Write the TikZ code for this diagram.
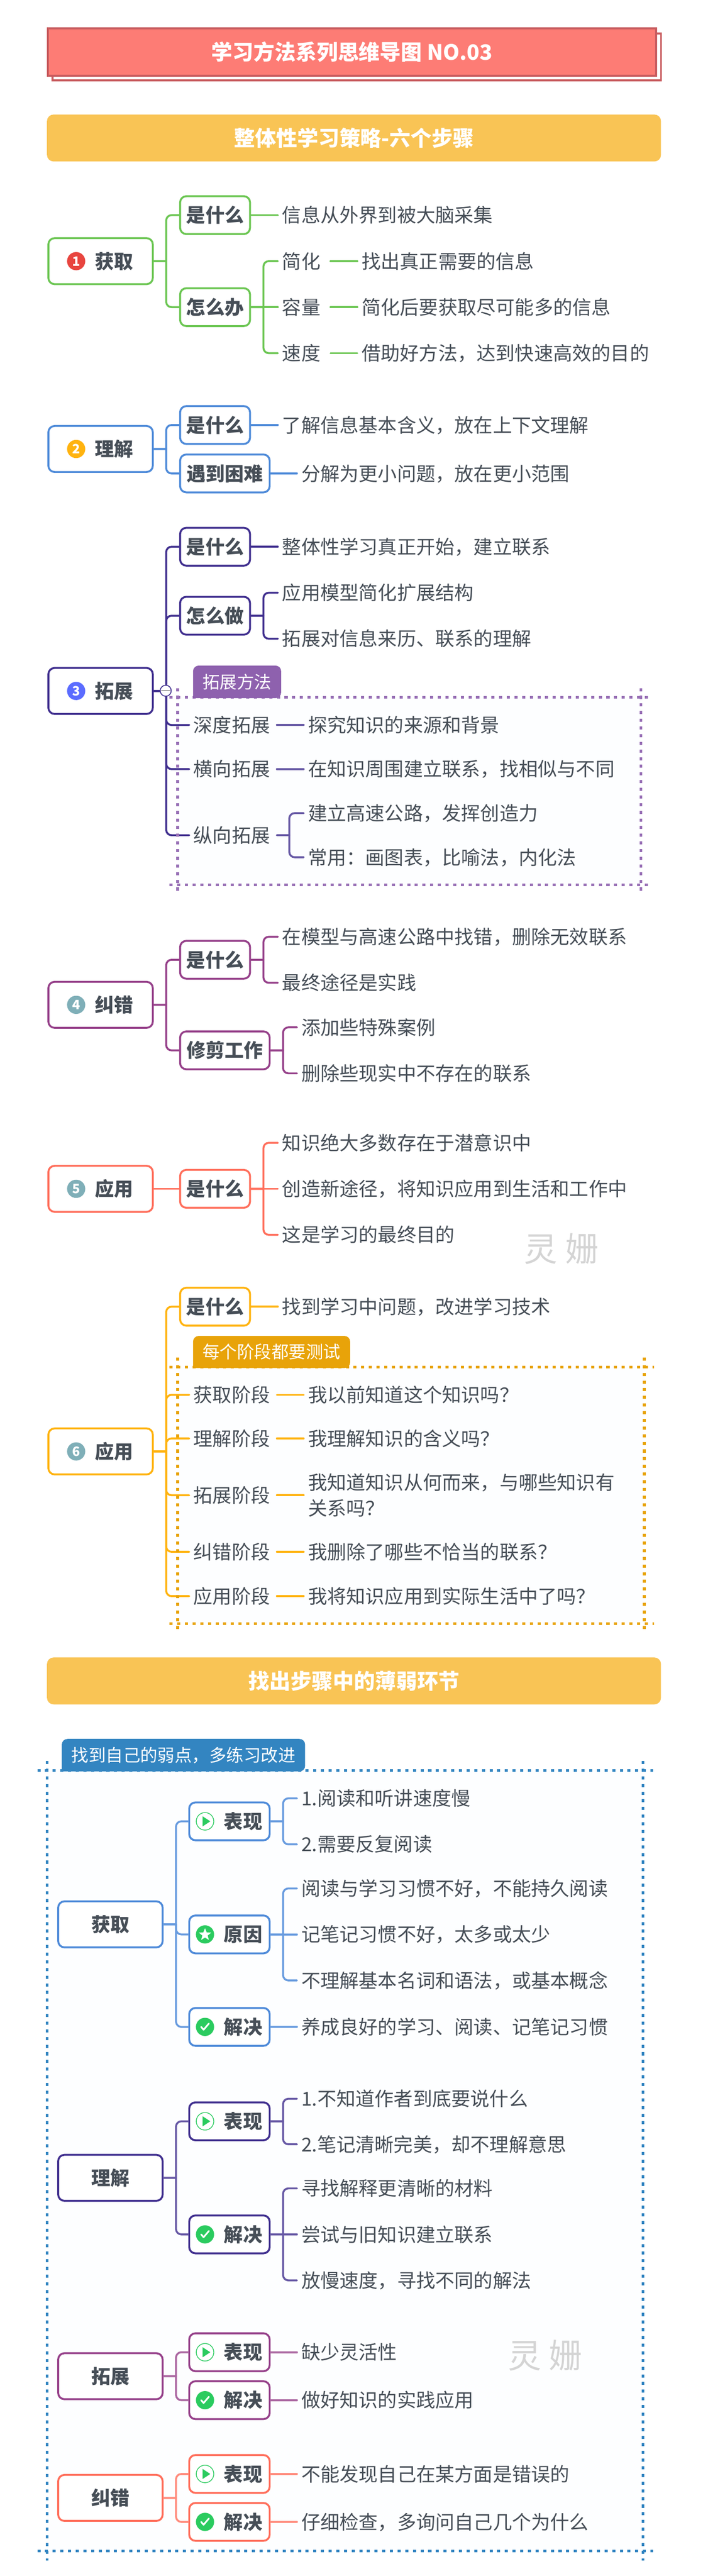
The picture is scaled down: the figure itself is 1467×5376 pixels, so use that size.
\documentclass[tikz,border=0pt]{standalone}
\usepackage{fontspec}
\setmainfont{Noto Sans CJK SC}
\usepackage{xcolor}
\usetikzlibrary{shapes.geometric}

\definecolor{inktext}{HTML}{464E57}
\definecolor{stepgreen}{HTML}{6CC653}
\definecolor{stepblue}{HTML}{4F8BD9}
\definecolor{stepindigo}{HTML}{41308F}
\definecolor{stepplum}{HTML}{96418A}
\definecolor{stepcoral}{HTML}{FF6F5C}
\definecolor{stepamber}{HTML}{FFB30F}
\definecolor{okgreen}{HTML}{2BCB5F}
\definecolor{sand}{HTML}{F9C455}
\definecolor{salmon}{HTML}{FD7C75}
\definecolor{salmonedge}{HTML}{C85C5F}
\definecolor{panel}{HTML}{FDFEFF}
\definecolor{tabpurple}{HTML}{8E61AE}
\definecolor{tabamber}{HTML}{E8A309}
\definecolor{tabblue}{HTML}{3385C1}
\definecolor{badgered}{HTML}{E8453F}
\definecolor{badgeblue}{HTML}{5B6CFF}
\definecolor{badgeteal}{HTML}{7FAFB8}

\begin{document}
\begin{tikzpicture}[x=1pt,y=-1pt]
    \tikzset{
        title/.style={rectangle, fill=salmon, draw=salmonedge, line width=4pt, minimum width=1270pt, minimum height=99pt, text=white, font=\fontsize{44pt}{52pt}\bfseries\selectfont},
        banner/.style={rectangle, fill=sand, rounded corners=14pt, minimum width=1282pt, minimum height=98pt, inner sep=0pt, text=white, font=\fontsize{44pt}{52pt}\bfseries\selectfont},
        rootbox/.style={rectangle, draw=tone, fill=white, line width=4pt, rounded corners=13pt, minimum width=218pt, minimum height=96pt, inner sep=0pt, text=inktext, text height=35.2pt, text depth=4.8pt, font=\fontsize{40pt}{48pt}\bfseries\selectfont},
        stepbox/.style={rootbox, execute at begin node={\hspace*{56pt}}},
        branch/.style={rootbox, minimum width=146pt, minimum height=79pt},
        widebranch/.style={branch, minimum width=187pt},
        iconbranch/.style={branch, minimum width=168pt, execute at begin node={\hspace*{57pt}}},
        leaf/.style={anchor=west, inner xsep=9pt, inner ysep=0pt, outer sep=0pt, text=inktext, text height=35.2pt, text depth=4.8pt, font=\fontsize{40pt}{53pt}\selectfont},
        badge/.style={circle, inner sep=0pt, minimum size=38pt, text=white, font=\fontsize{27pt}{27pt}\bfseries\selectfont},
        tabtext/.style={inner sep=0pt, text=white, text height=31.7pt, text depth=4.3pt, font=\fontsize{36pt}{44pt}\selectfont},
        dots/.style={line width=5.5pt, dash pattern=on 6.5pt off 9.5pt},
        watermark/.style={text=black!17, font=\fontsize{70pt}{80pt}\selectfont},
        every edge/.style={draw=wire, line width=4pt, line cap=round},
        elbow/.style={to path={-- ++(26,0) ++(0,0) [rounded corners=11pt] |- (\tikztotarget)}},
        playmark/.pic={\draw[okgreen, line width=1.5pt, fill=white] (0,0) circle (18.3); \fill[okgreen] (-5,-10.5) -- (11,0) -- (-5,10.5) -- cycle;},
        starmark/.pic={\fill[okgreen] (0,0) circle (19); \node[star, star points=5, star point ratio=2.3, fill=white, inner sep=0pt, minimum size=27pt] (mark) at (0,0.5) {};},
        checkmark/.pic={\fill[okgreen] (0,0) circle (19); \draw[white, line width=3.5pt, line cap=round, line join=round] (-8,0) -- (-3,6) -- (8,-7);}
    }
    \useasboundingbox (0,0) rectangle (1467,5376);
    \fill[white] (0,0) rectangle (1467,5376);

    \draw[salmonedge, line width=4pt, fill=white] (110,70) rectangle (1380,168);
    \node[title] (T) at (735,108.5) {学习方法系列思维导图 NO.03};
    \node[banner] (H1) at (739,288) {整体性学习策略-六个步骤};

    \colorlet{tone}{stepgreen}\colorlet{wire}{tone}
    \node[stepbox] (R1) at (210,545) {获取};
    \node[badge, fill=badgered] (N1) at ([xshift=60pt]R1.west) {1};
    \node[branch] (B1a) at (449,449) {是什么};
    \node[branch] (B1b) at (449,641) {怎么办};
    \node[leaf] (L1a) at (580,449) {信息从外界到被大脑采集};
    \node[leaf] (L1b) at (580,545) {简化};
    \node[leaf] (M1b) at (746,545) {找出真正需要的信息};
    \node[leaf] (L1c) at (580,641) {容量};
    \node[leaf] (M1c) at (746,641) {简化后要获取尽可能多的信息};
    \node[leaf] (L1d) at (580,737) {速度};
    \node[leaf] (M1d) at (746,737) {借助好方法，达到快速高效的目的};
    \path (R1.east) edge[elbow] (B1a.west) edge[elbow] (B1b.west);
    \path (B1a.east) edge (L1a.west);
    \path (B1b.east) edge[elbow] (L1b.west) edge (L1c.west) edge[elbow] (L1d.west);
    \path ([xshift=12pt]L1b.east) edge (M1b.west);
    \path ([xshift=12pt]L1c.east) edge (M1c.west);
    \path ([xshift=12pt]L1d.east) edge (M1d.west);

    \colorlet{tone}{stepblue}\colorlet{wire}{tone}
    \node[stepbox] (R2) at (210,937) {理解};
    \node[badge, fill=stepamber] (N2) at ([xshift=60pt]R2.west) {2};
    \node[branch] (B2a) at (449,887) {是什么};
    \node[widebranch] (B2b) at (469.5,988) {遇到困难};
    \node[leaf] (L2a) at (580,887) {了解信息基本含义，放在上下文理解};
    \node[leaf] (L2b) at (620,988) {分解为更小问题，放在更小范围};
    \path (R2.east) edge[elbow] (B2a.west) edge[elbow] (B2b.west);
    \path (B2a.east) edge (L2a.west);
    \path (B2b.east) edge (L2b.west);

    \colorlet{tone}{stepindigo}\colorlet{wire}{tone}
    \fill[panel] (371,1455) rectangle (1338,1847);
    \node[stepbox] (R3) at (210,1442) {拓展};
    \node[badge, fill=badgeblue] (N3) at ([xshift=60pt]R3.west) {3};
    \node[branch] (B3a) at (449,1141) {是什么};
    \node[branch] (B3b) at (449,1285) {怎么做};
    \node[leaf] (L3a) at (580,1141) {整体性学习真正开始，建立联系};
    \node[leaf] (L3b) at (580,1237) {应用模型简化扩展结构};
    \node[leaf] (L3c) at (580,1333) {拓展对信息来历、联系的理解};
    \node[leaf] (L3d) at (395,1513) {深度拓展};
    \node[leaf] (M3d) at (634,1513) {探究知识的来源和背景};
    \node[leaf] (L3e) at (395,1605) {横向拓展};
    \node[leaf] (M3e) at (634,1605) {在知识周围建立联系，找相似与不同};
    \node[leaf] (L3f) at (395,1743) {纵向拓展};
    \node[leaf] (M3f) at (634,1697) {建立高速公路，发挥创造力};
    \node[leaf] (M3g) at (634,1789) {常用：画图表，比喻法，内化法};
    \path (R3.east) edge[elbow] (B3a.west) edge[elbow] (B3b.west) edge[elbow] (L3d.west) edge[elbow] (L3e.west) edge[elbow] (L3f.west);
    \path (B3a.east) edge (L3a.west);
    \path (B3b.east) edge[elbow] (L3b.west) edge[elbow] (L3c.west);
    \colorlet{wire}{tone!80!white}
    \path ([xshift=5pt]L3d.east) edge (M3d.west);
    \path ([xshift=5pt]L3e.east) edge (M3e.west);
    \path ([xshift=5pt]L3f.east) edge[elbow] (M3f.west) edge[elbow] (M3g.west);
    \draw[dots, tabpurple!90!white] (354,1455) -- (1354,1455);
    \draw[dots, tabpurple!90!white] (354,1847) -- (1354,1847);
    \draw[dots, tabpurple!90!white] (371,1436) -- (371,1860);
    \draw[dots, tabpurple!90!white] (1338,1436) -- (1338,1860);
    \fill[tabpurple] (403,1457) [rounded corners=12pt] -- (403,1389) -- (587,1389) -- (587,1457) [sharp corners] -- cycle;
    \node[tabtext] (K3) at (495,1423) {拓展方法};
    \node[circle, draw=tone, fill=white, line width=1.8pt, minimum size=23pt, inner sep=0pt] (C3) at (346,1441.5) {};
    \draw[black!70, line width=1.5pt, shorten <=3pt, shorten >=3pt] (C3.west) -- (C3.east);

    \colorlet{tone}{stepplum}\colorlet{wire}{tone}
    \node[stepbox] (R4) at (210,2097) {纠错};
    \node[badge, fill=badgeteal] (N4) at ([xshift=60pt]R4.west) {4};
    \node[branch] (B4a) at (449,2003) {是什么};
    \node[widebranch] (B4b) at (469.5,2192) {修剪工作};
    \node[leaf] (L4a) at (580,1955) {在模型与高速公路中找错，删除无效联系};
    \node[leaf] (L4b) at (580,2051) {最终途径是实践};
    \node[leaf] (L4c) at (620,2144) {添加些特殊案例};
    \node[leaf] (L4d) at (620,2240) {删除些现实中不存在的联系};
    \path (R4.east) edge[elbow] (B4a.west) edge[elbow] (B4b.west);
    \path (B4a.east) edge[elbow] (L4a.west) edge[elbow] (L4b.west);
    \path (B4b.east) edge[elbow] (L4c.west) edge[elbow] (L4d.west);

    \colorlet{tone}{stepcoral}\colorlet{wire}{tone}
    \node[stepbox] (R5) at (210,2481) {应用};
    \node[badge, fill=badgeteal] (N5) at ([xshift=60pt]R5.west) {5};
    \node[branch] (B5a) at (449,2481) {是什么};
    \node[leaf] (L5a) at (580,2385) {知识绝大多数存在于潜意识中};
    \node[leaf] (L5b) at (580,2481) {创造新途径，将知识应用到生活和工作中};
    \node[leaf] (L5c) at (580,2577) {这是学习的最终目的};
    \node[watermark] (W1) at (1172,2606) {灵 姗};
    \path (R5.east) edge (B5a.west);
    \path (B5a.east) edge[elbow] (L5a.west) edge (L5b.west) edge[elbow] (L5c.west);

    \colorlet{tone}{stepamber}\colorlet{wire}{tone}
    \fill[panel] (371,2853) rectangle (1345,3388);
    \node[stepbox] (R6) at (210,3029) {应用};
    \node[badge, fill=badgeteal] (N6) at ([xshift=60pt]R6.west) {6};
    \node[branch] (B6a) at (449,2727) {是什么};
    \node[leaf] (L6a) at (580,2727) {找到学习中问题，改进学习技术};
    \node[leaf] (L6b) at (395,2911) {获取阶段};
    \node[leaf] (M6b) at (634,2911) {我以前知道这个知识吗？};
    \node[leaf] (L6c) at (395,3002) {理解阶段};
    \node[leaf] (M6c) at (634,3002) {我理解知识的含义吗？};
    \node[leaf] (L6d) at (395,3120.5) {拓展阶段};
    \node[leaf, align=left, text height=, text depth=] (M6d) at (634,3120.5) {我知道知识从何而来，与哪些知识有\\关系吗？};
    \node[leaf] (L6e) at (395,3238.5) {纠错阶段};
    \node[leaf] (M6e) at (634,3238.5) {我删除了哪些不恰当的联系？};
    \node[leaf] (L6f) at (395,3331) {应用阶段};
    \node[leaf] (M6f) at (634,3331) {我将知识应用到实际生活中了吗？};
    \path (R6.east) edge[elbow] (B6a.west) edge[elbow] (L6b.west) edge[elbow] (L6c.west) edge[elbow] (L6d.west) edge[elbow] (L6e.west) edge[elbow] (L6f.west);
    \path (B6a.east) edge (L6a.west);
    \path ([xshift=5pt]L6b.east) edge (M6b.west);
    \path ([xshift=5pt]L6c.east) edge (M6c.west);
    \path ([xshift=5pt]L6d.east) edge (M6d.west);
    \path ([xshift=5pt]L6e.east) edge (M6e.west);
    \path ([xshift=5pt]L6f.east) edge (M6f.west);
    \draw[dots, tabamber] (354,2853) -- (1365,2853);
    \draw[dots, tabamber] (354,3388) -- (1365,3388);
    \draw[dots, tabamber] (371,2833) -- (371,3402);
    \draw[dots, tabamber] (1345,2833) -- (1345,3402);
    \fill[tabamber] (403,2855) [rounded corners=12pt] -- (403,2788) -- (731,2788) -- (731,2855) [sharp corners] -- cycle;
    \node[tabtext] (K6) at (567,2821.5) {每个阶段都要测试};

    \node[banner] (H2) at (739,3508) {找出步骤中的薄弱环节};

    \fill[panel] (98,3695) rectangle (1342,5324);

    \colorlet{tone}{stepblue}\colorlet{wire}{tone!85!white}
    \node[rootbox] (P1) at (230.5,4016) {获取};
    \node[iconbranch] (Q1a) at (479,3801) {表现};
    \node[iconbranch] (Q1b) at (479,4037) {原因};
    \node[iconbranch] (Q1c) at (479,4230) {解决};
    \pic at ([xshift=35pt]Q1a.west) {playmark};
    \pic at ([xshift=35pt]Q1b.west) {starmark};
    \pic at ([xshift=35pt]Q1c.west) {checkmark};
    \node[leaf] (S1a) at (620,3753) {1.阅读和听讲速度慢};
    \node[leaf] (S1b) at (620,3849) {2.需要反复阅读};
    \node[leaf] (S1c) at (620,3941) {阅读与学习习惯不好，不能持久阅读};
    \node[leaf] (S1d) at (620,4037) {记笔记习惯不好，太多或太少};
    \node[leaf] (S1e) at (620,4133) {不理解基本名词和语法，或基本概念};
    \node[leaf] (S1f) at (620,4230) {养成良好的学习、阅读、记笔记习惯};
    \path (P1.east) edge[elbow] (Q1a.west) edge[elbow] (Q1b.west) edge[elbow] (Q1c.west);
    \path (Q1a.east) edge[elbow] (S1a.west) edge[elbow] (S1b.west);
    \path (Q1b.east) edge[elbow] (S1c.west) edge (S1d.west) edge[elbow] (S1e.west);
    \path (Q1c.east) edge (S1f.west);

    \colorlet{tone}{stepindigo}\colorlet{wire}{tone!80!white}
    \node[rootbox] (P2) at (230.5,4545) {理解};
    \node[iconbranch] (Q2a) at (479,4427) {表现};
    \node[iconbranch] (Q2b) at (479,4663) {解决};
    \pic at ([xshift=35pt]Q2a.west) {playmark};
    \pic at ([xshift=35pt]Q2b.west) {checkmark};
    \node[leaf] (S2a) at (620,4380) {1.不知道作者到底要说什么};
    \node[leaf] (S2b) at (620,4475) {2.笔记清晰完美，却不理解意思};
    \node[leaf] (S2c) at (620,4567) {寻找解释更清晰的材料};
    \node[leaf] (S2d) at (620,4663) {尝试与旧知识建立联系};
    \node[leaf] (S2e) at (620,4759) {放慢速度，寻找不同的解法};
    \path (P2.east) edge[elbow] (Q2a.west) edge[elbow] (Q2b.west);
    \path (Q2a.east) edge[elbow] (S2a.west) edge[elbow] (S2b.west);
    \path (Q2b.east) edge[elbow] (S2c.west) edge (S2d.west) edge[elbow] (S2e.west);

    \colorlet{tone}{stepplum}\colorlet{wire}{tone!80!white}
    \node[rootbox] (P3) at (230.5,4959) {拓展};
    \node[iconbranch] (Q3a) at (479,4909) {表现};
    \node[iconbranch] (Q3b) at (479,5009) {解决};
    \pic at ([xshift=35pt]Q3a.west) {playmark};
    \pic at ([xshift=35pt]Q3b.west) {checkmark};
    \node[leaf] (S3a) at (620,4909) {缺少灵活性};
    \node[leaf] (S3b) at (620,5009) {做好知识的实践应用};
    \node[watermark] (W2) at (1138,4916) {灵 姗};
    \path (P3.east) edge[elbow] (Q3a.west) edge[elbow] (Q3b.west);
    \path (Q3a.east) edge (S3a.west);
    \path (Q3b.east) edge (S3b.west);

    \colorlet{tone}{stepcoral}\colorlet{wire}{tone!80!white}
    \node[rootbox] (P4) at (230.5,5213) {纠错};
    \node[iconbranch] (Q4a) at (479,5163) {表现};
    \node[iconbranch] (Q4b) at (479,5263) {解决};
    \pic at ([xshift=35pt]Q4a.west) {playmark};
    \pic at ([xshift=35pt]Q4b.west) {checkmark};
    \node[leaf] (S4a) at (620,5163) {不能发现自己在某方面是错误的};
    \node[leaf] (S4b) at (620,5263) {仔细检查，多询问自己几个为什么};
    \path (P4.east) edge[elbow] (Q4a.west) edge[elbow] (Q4b.west);
    \path (Q4a.east) edge (S4a.west);
    \path (Q4b.east) edge (S4b.west);

    \draw[dots, tabblue] (78,3695) -- (1363,3695);
    \draw[dots, tabblue] (78,5324) -- (1363,5324);
    \draw[dots, tabblue] (98,3675) -- (98,5344);
    \draw[dots, tabblue] (1342,3675) -- (1342,5344);
    \fill[tabblue] (129,3697) [rounded corners=12pt] -- (129,3629) -- (637,3629) -- (637,3697) [sharp corners] -- cycle;
    \node[tabtext] (K7) at (383,3663) {找到自己的弱点，多练习改进};
\end{tikzpicture}
\end{document}
